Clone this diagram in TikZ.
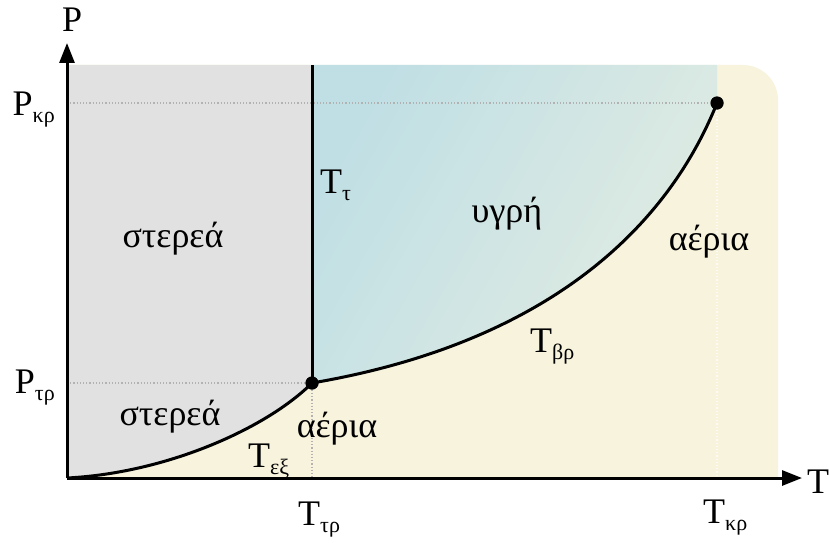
\documentclass[tikz,border=0pt]{standalone}
\usepackage{fontspec}
\setmainfont{Liberation Serif}
\usetikzlibrary{arrows.meta, positioning}
\definecolor{solidgray}{RGB}{225,225,225}
\definecolor{liquidA}{RGB}{192,223,228}
\definecolor{liquidB}{RGB}{226,236,227}
\definecolor{gascream}{RGB}{247,243,221}
\newcommand{\idx}[1]{\raisebox{-0.2em}{\fontsize{22}{22}\selectfont #1}}

\begin{document}
\begin{tikzpicture}[x=1pt, y=1pt, font=\fontsize{36}{40}\selectfont,
    axis/.style={line width=3pt, -{Triangle[length=20pt, width=15pt]}},
    phaseline/.style={line width=3pt},
    guide/.style={gray!60, dotted, line width=1.2pt},
    txt/.style={inner sep=0pt, anchor=base},
    pt/.style={circle, fill=black, inner sep=0pt, minimum size=13pt}]

    \useasboundingbox (-67,-64) rectangle (762,478);

    % περιοχές φάσεων
    \fill[gascream] (0,0) -- (0,413) -- (676,413) arc[start angle=90, end angle=0, radius=35] -- (711,0) -- cycle;
    \fill[solidgray] (0,0) .. controls (100,5) and (200,50) .. (245,95)
        -- (245,413) -- (0,413) -- cycle;
    \shade[left color=liquidA, right color=liquidB, shading angle=60] (245,95) .. controls (480,135) and (600,250) .. (650,375)
        -- (650,413) -- (245,413) -- cycle;

    % σημεία
    \coordinate (O) at (0,0);
    \coordinate (top) at (0,413);
    \coordinate (ytip) at (0,435);
    \coordinate (xtip) at (735,0);
    \node[pt] (triple) at (245,95) {};
    \node[pt] (crit) at (650,375) {};

    % βοηθητικές γραμμές
    \draw[guide] (O |- crit) -- (crit);
    \draw[guide] (O |- triple) -- (triple);
    \draw[guide] (triple) -- (triple |- O);
    \draw[guide, white, opacity=0.7] (crit) -- (crit |- O);

    % καμπύλες ισορροπίας
    \draw[phaseline] (O) .. controls (100,5) and (200,50) .. (triple.center);
    \draw[phaseline] (triple.center) .. controls (480,135) and (600,250) .. (crit.center);
    \draw[phaseline] (triple.center) -- (triple |- top);

    % άξονες
    \draw[axis] (O) -- (ytip);
    \draw[axis] (O) -- (xtip);
    \node[pt] at (triple) {};
    \node[pt] at (crit) {};

    % ετικέτες
    \node[txt, anchor=base west] (Plab) at (-5,446) {P};
    \node[txt, anchor=base east] (Pkr) at (-12,363) {P\idx{κρ}};
    \node[txt, anchor=base east] (Ptr) at (-12,85) {P\idx{τρ}};
    \node[txt, anchor=base west] (Tlab) at (740,-15) {T};
    \node[txt, anchor=base west] (Ttr) at (231,-47) {T\idx{τρ}};
    \node[txt, anchor=base west] (Tkr) at (636,-45) {T\idx{κρ}};
    \node[txt, anchor=base west] (Tt) at (253,285) {T\idx{τ}};
    \node[txt, anchor=base west] (Tbr) at (463,126) {T\idx{βρ}};
    \node[txt, anchor=base west] (Tex) at (181,11) {T\idx{εξ}};
    \node[txt] (solidup) at (106,231) {στερεά};
    \node[txt] (solidlow) at (103,53) {στερεά};
    \node[txt] (liquid) at (440,256) {υγρή};
    \node[txt] (gasright) at (642,228) {αέρια};
    \node[txt] (gaslow) at (270,41) {αέρια};
\end{tikzpicture}
\end{document}
